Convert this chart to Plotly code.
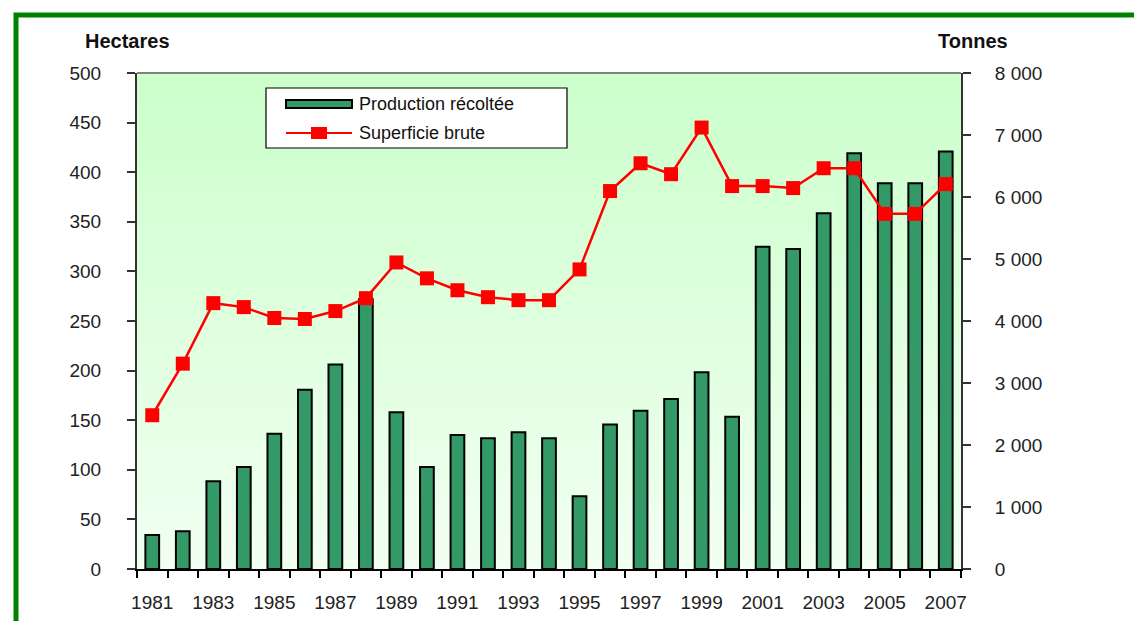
import plotly.graph_objects as go

years = list(range(1981, 2008))
production_t = [550, 610, 1415, 1645, 2180, 2890, 3300, 4350, 2530, 1645,
                2160, 2108, 2205, 2108, 1173, 2330, 2554, 2742, 3172, 2457,
                5199, 5162, 5738, 6706, 6222, 6222, 6732]
superficie_ha = [155, 207, 268, 264, 253, 252, 260, 273, 309, 293,
                 281, 274, 271, 271, 302, 381, 409, 398, 445, 386,
                 386, 384, 404, 404, 358, 358, 388]
left_ticks = list(range(0, 501, 50))
right_ticks = list(range(0, 8001, 1000))
series_names = ["Production récoltée", "Superficie brute"]

FONT = "Liberation Sans, Arial, sans-serif"
OFF = 8  # page body margin
W, H = 1142 - OFF, 621 - OFF
# plot area in screen pixels
PL, PR, PT, PB = 137, 961, 73, 569
ML, MT = PL - OFF, PT - OFF
MR, MB = W - (PR - OFF), H - (PB - OFF)
PW, PH = PR - PL, PB - PT

def px(xs):
    return (xs - PL) / PW

def py(ys):
    return (PB - ys) / PH

fig = go.Figure()
fig.add_trace(go.Bar(
    x=years, y=production_t, name=series_names[0],
    marker=dict(color="#339966", line=dict(color="black", width=2)),
    width=0.45, yaxis="y", showlegend=False,
))
fig.add_trace(go.Scatter(
    x=years, y=superficie_ha, name=series_names[1], mode="lines+markers",
    line=dict(color="#ff0000", width=2.5),
    marker=dict(symbol="square", size=14, color="#ff0000"),
    yaxis="y2", showlegend=False,
))

shapes = []
N = 80
for i in range(N):
    t = i / (N - 1)
    c = int(204 + (242 - 204) * (1 - t))
    shapes.append(dict(type="rect", xref="paper", yref="paper",
                       x0=0, x1=1, y0=i / N, y1=(i + 1) / N + 0.002,
                       fillcolor=f"rgb({c},255,{c})", line=dict(width=0),
                       layer="below"))
# top border of plot area
shapes.append(dict(type="line", xref="paper", yref="paper", x0=0, x1=1, y0=1, y1=1,
                   line=dict(color="#808080", width=2)))
# green frame
shapes.append(dict(type="rect", xref="paper", yref="paper",
                   x0=px(16), x1=px(1300), y0=py(700), y1=py(15),
                   line=dict(color="#008000", width=5), fillcolor="rgba(0,0,0,0)"))
# legend box
shapes.append(dict(type="rect", xref="paper", yref="paper",
                   x0=px(266), x1=px(567), y0=py(148), y1=py(88),
                   line=dict(color="black", width=1.2), fillcolor="white"))
# legend symbol: bar
shapes.append(dict(type="rect", xref="paper", yref="paper",
                   x0=px(286), x1=px(352), y0=py(108), y1=py(100),
                   line=dict(color="black", width=2), fillcolor="#339966"))
# legend symbol: line + square
shapes.append(dict(type="line", xref="paper", yref="paper",
                   x0=px(286), x1=px(352), y0=py(133), y1=py(133),
                   line=dict(color="#ff0000", width=2)))
shapes.append(dict(type="rect", xref="paper", yref="paper",
                   x0=px(311), x1=px(327), y0=py(139), y1=py(127),
                   line=dict(width=0), fillcolor="#ff0000"))

axis_font = dict(family=FONT, size=19, color="#222222")
legend_font = dict(family=FONT, size=18, color="#111111")
title_font = dict(family=FONT, size=20, color="#111111")

fig.update_layout(
    width=W, height=H,
    margin=dict(l=ML, r=MR, t=MT, b=MB, autoexpand=False),
    paper_bgcolor="white", plot_bgcolor="#e6ffe6",
    separators=", ",
    barmode="overlay",
    shapes=shapes,
    showlegend=False,
    xaxis=dict(range=[1980.5, 2007.5], tickmode="array", tickvals=years[::2],
               ticks="", showline=True, linecolor="black", linewidth=2,
               showgrid=False, zeroline=False, tickfont=axis_font,
               ticklabelstandoff=15,
               minor=dict(ticks="outside", ticklen=7, tickcolor="black", tickwidth=2,
                          tickmode="linear", tick0=1980.5, dtick=1, showgrid=False)),
    yaxis=dict(side="right", range=[0, 8000], tickvals=right_ticks, tickformat=",d",
               ticks="outside", ticklen=8, tickwidth=2, tickcolor="#333333",
               showline=True, linecolor="#333333", linewidth=2,
               showgrid=False, zeroline=False, tickfont=axis_font,
               ticklabelstandoff=20),
    yaxis2=dict(side="left", overlaying="y", range=[0, 500], tickvals=left_ticks,
                ticks="outside", ticklen=8, tickwidth=2, tickcolor="#333333",
                showline=True, linecolor="#333333", linewidth=2,
                showgrid=False, zeroline=False, tickfont=axis_font,
                ticklabelstandoff=22),
    annotations=[
        dict(text="<b>Hectares</b>", xref="paper", yref="paper", x=px(127), y=py(41),
             xanchor="center", yanchor="middle", showarrow=False, font=title_font),
        dict(text="<b>Tonnes</b>", xref="paper", yref="paper", x=px(973), y=py(41),
             xanchor="center", yanchor="middle", showarrow=False, font=title_font),
        dict(text=series_names[0], xref="paper", yref="paper", x=px(357), y=py(104),
             xanchor="left", yanchor="middle", showarrow=False, font=legend_font),
        dict(text=series_names[1], xref="paper", yref="paper", x=px(357), y=py(133),
             xanchor="left", yanchor="middle", showarrow=False, font=legend_font),
    ],
)

fig.write_html("out.html")
